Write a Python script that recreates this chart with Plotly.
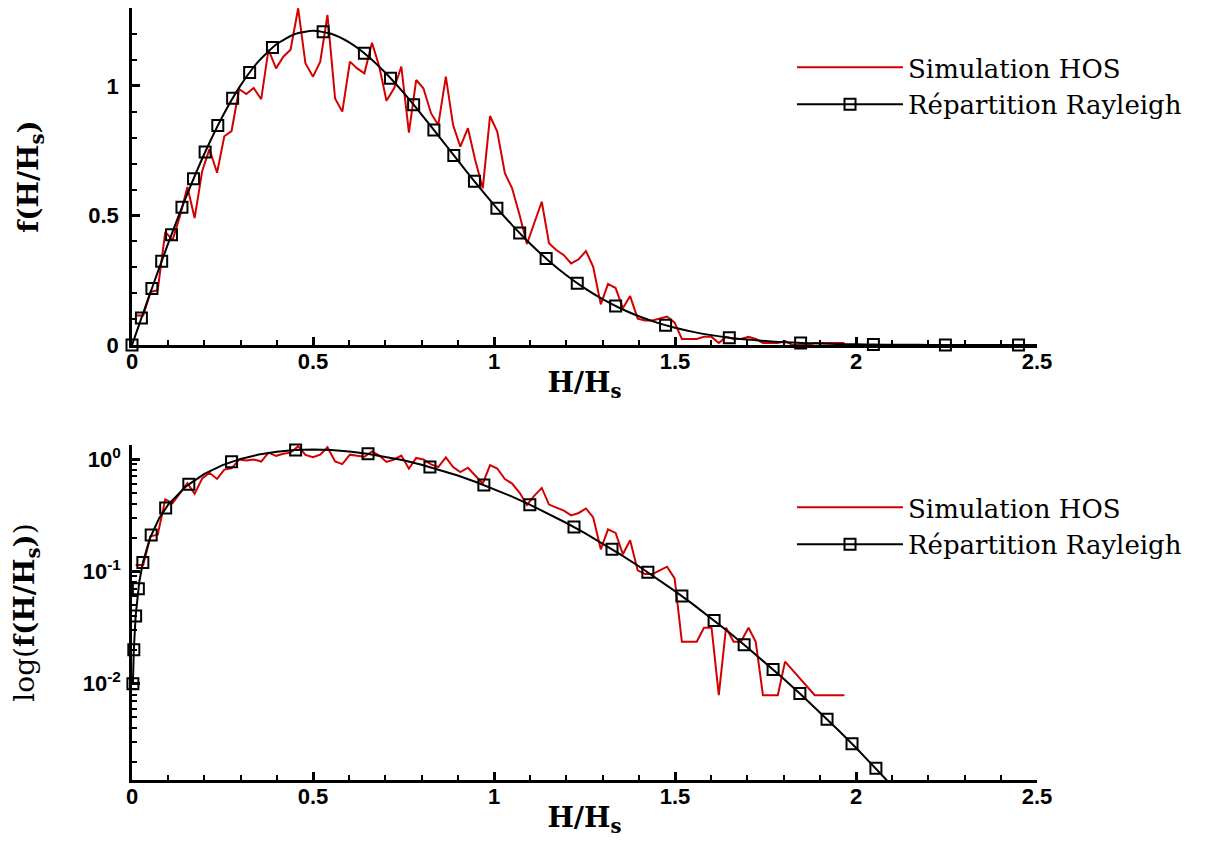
import plotly.graph_objects as go

# ---------------- data ----------------
# Simulation HOS : histogram of normalised wave heights (bin centres, density)
hos_h = [0.010, 0.031, 0.051, 0.071, 0.092, 0.112, 0.133, 0.153, 0.173, 0.194,
         0.214, 0.235, 0.255, 0.275, 0.296, 0.316, 0.336, 0.357, 0.377, 0.398,
         0.418, 0.438, 0.459, 0.479, 0.500, 0.520, 0.540, 0.561, 0.581, 0.602,
         0.622, 0.642, 0.663, 0.683, 0.703, 0.724, 0.744, 0.765, 0.785, 0.805,
         0.826, 0.846, 0.867, 0.887, 0.907, 0.928, 0.948, 0.969, 0.989, 1.009,
         1.030, 1.050, 1.071, 1.091, 1.111, 1.132, 1.152, 1.172, 1.193, 1.213,
         1.234, 1.254, 1.274, 1.295, 1.315, 1.336, 1.356, 1.376, 1.397, 1.417,
         1.438, 1.458, 1.478, 1.499, 1.519, 1.539, 1.560, 1.580, 1.601, 1.621,
         1.641, 1.662, 1.682, 1.703, 1.723, 1.743, 1.764, 1.784, 1.804, 1.825,
         1.845, 1.866, 1.886, 1.906, 1.927, 1.947, 1.968]
hos_f = [0.114, 0.114, 0.205, 0.212, 0.437, 0.405, 0.500, 0.610, 0.490, 0.672,
         0.756, 0.665, 0.806, 0.826, 0.988, 0.969, 0.992, 0.949, 1.140, 1.068,
         1.113, 1.140, 1.300, 1.088, 1.036, 1.094, 1.274, 0.952, 0.901, 1.094,
         1.068, 1.049, 1.167, 1.075, 0.943, 0.991, 1.075, 0.820, 1.023, 0.991,
         0.895, 0.849, 1.036, 0.849, 0.766, 0.837, 0.714, 0.605, 0.884, 0.824,
         0.663, 0.605, 0.500, 0.390, 0.470, 0.553, 0.393, 0.367, 0.347, 0.315,
         0.331, 0.363, 0.302, 0.157, 0.236, 0.220, 0.142, 0.189, 0.102, 0.0945,
         0.0945, 0.102, 0.110, 0.0866, 0.0236, 0.0236, 0.0236, 0.0315, 0.0315, 0.0079,
         0.0315, 0.0236, 0.0236, 0.0315, 0.0236, 0.0079, 0.0079, 0.0079, 0.0157, 0.0,
         0.0, 0.0, 0.0079, 0.0079, 0.0079, 0.0079, 0.0079]

# Rayleigh distribution curve
rayleigh_h = [0.0, 0.0025, 0.005, 0.01, 0.02, 0.03, 0.05, 0.075, 0.1, 0.15,
              0.2, 0.25, 0.3, 0.35, 0.4, 0.45, 0.5, 0.55, 0.6, 0.65,
              0.7, 0.75, 0.8, 0.85, 0.9, 0.95, 1.0, 1.05, 1.1, 1.15,
              1.2, 1.25, 1.3, 1.35, 1.4, 1.45, 1.5, 1.55, 1.6, 1.65,
              1.7, 1.75, 1.8, 1.85, 1.9, 1.95, 2.0, 2.05, 2.1, 2.15,
              2.2, 2.3, 2.4, 2.5]
rayleigh_f = [0.0, 0.0100, 0.0200, 0.03999, 0.07994, 0.1198, 0.1990, 0.2966, 0.3921, 0.5736,
              0.7385, 0.8825, 1.0023, 1.0958, 1.1618, 1.2006, 1.2131, 1.2014, 1.1682, 1.1169,
              1.0509, 0.9740, 0.8897, 0.8016, 0.7125, 0.6250, 0.5413, 0.4631, 0.3913, 0.3267,
              0.2694, 0.2197, 0.1770, 0.1411, 0.1111, 0.08654, 0.06665, 0.05078, 0.03825, 0.02850,
              0.02100, 0.01531, 0.01104, 0.007881, 0.005563, 0.003886, 0.002684, 0.001834, 0.001241, 0.000831,
              0.000550, 0.000234, 0.000095, 0.000037]

# Rayleigh symbols (linear plot)
top_marker_h = [0.0, 0.026, 0.055, 0.082, 0.109, 0.138, 0.170, 0.202, 0.237, 0.278,
                0.325, 0.388, 0.528, 0.642, 0.714, 0.778, 0.834, 0.889, 0.946, 1.008,
                1.071, 1.144, 1.230, 1.336, 1.474, 1.650, 1.847, 2.048, 2.247, 2.449]
top_marker_f = [0.0, 0.1039, 0.2187, 0.3236, 0.4258, 0.5314, 0.6418, 0.7447, 0.8473, 0.9527,
                1.0525, 1.1485, 1.2094, 1.1261, 1.0303, 0.9275, 0.8300, 0.7320, 0.6318, 0.5284,
                0.4320, 0.3340, 0.2387, 0.1505, 0.07643, 0.02849, 0.008044, 0.001863, 0.00037, 0.00006]

# Rayleigh symbols (log plot)
log_marker_h = [0.0025, 0.005, 0.010, 0.0175, 0.030, 0.053, 0.093, 0.157, 0.275, 0.452,
                0.652, 0.823, 0.972, 1.099, 1.221, 1.326, 1.425, 1.519, 1.608, 1.691,
                1.771, 1.845, 1.920, 1.989, 2.055]
log_marker_f = [0.0100, 0.0200, 0.03999, 0.06996, 0.1198, 0.2108, 0.3656, 0.5978, 0.9456, 1.2015,
                1.1144, 0.8495, 0.5876, 0.3926, 0.2476, 0.1575, 0.09819, 0.06018, 0.03651, 0.02221,
                0.01337, 0.008156, 0.004826, 0.002914, 0.001765]

x_tick_vals = [0, 0.5, 1, 1.5, 2, 2.5]
x_tick_text = ["0", "0.5", "1", "1.5", "2", "2.5"]
log_tick_vals = [1, 0.1, 0.01]
log_tick_text = ["10<sup>0</sup>", "10<sup>-1</sup>", "10<sup>-2</sup>"]
log_minor_vals = [m * d for d in (0.001, 0.01, 0.1) for m in range(2, 10)]

# ---------------- style ----------------
RED = "#d40000"
BLACK = "#000000"
line_w = 2
marker_style = dict(symbol="square-open", size=11, color=BLACK, line=dict(width=2, color=BLACK))
tick_font = dict(family="Liberation Sans, Arial, sans-serif", size=22, color=BLACK, weight="bold")
title_font = dict(family="DejaVu Serif, serif", size=28, color=BLACK)
legend_font = dict(family="DejaVu Serif, serif", size=26, color=BLACK)

fig = go.Figure()

# ----- top (linear) -----
fig.add_trace(go.Scatter(x=hos_h, y=hos_f, mode="lines", name="Simulation HOS",
                         line=dict(color=RED, width=line_w), xaxis="x", yaxis="y",
                         legend="legend"))
fig.add_trace(go.Scatter(x=rayleigh_h, y=rayleigh_f, mode="lines", showlegend=False,
                         line=dict(color=BLACK, width=line_w, shape="spline", smoothing=0.6),
                         xaxis="x", yaxis="y"))
fig.add_trace(go.Scatter(x=top_marker_h, y=top_marker_f, mode="markers", showlegend=False,
                         marker=marker_style, cliponaxis=False, xaxis="x", yaxis="y"))
fig.add_trace(go.Scatter(x=[None], y=[None], mode="lines+markers", name="Répartition Rayleigh",
                         line=dict(color=BLACK, width=line_w), marker=marker_style,
                         xaxis="x", yaxis="y", legend="legend"))

# ----- bottom (log) -----
hos_f_log = [v if v > 0 else None for v in hos_f]
fig.add_trace(go.Scatter(x=hos_h, y=hos_f_log, mode="lines", name="Simulation HOS",
                         line=dict(color=RED, width=line_w), connectgaps=True,
                         xaxis="x2", yaxis="y2", legend="legend2"))
fig.add_trace(go.Scatter(x=rayleigh_h[1:], y=rayleigh_f[1:], mode="lines", showlegend=False,
                         line=dict(color=BLACK, width=line_w), xaxis="x2", yaxis="y2"))
fig.add_trace(go.Scatter(x=log_marker_h, y=log_marker_f, mode="markers", showlegend=False,
                         marker=marker_style, cliponaxis=False, xaxis="x2", yaxis="y2"))
fig.add_trace(go.Scatter(x=[None], y=[None], mode="lines+markers", name="Répartition Rayleigh",
                         line=dict(color=BLACK, width=line_w), marker=marker_style,
                         xaxis="x2", yaxis="y2", legend="legend2"))

axis_common = dict(showline=True, linecolor=BLACK, linewidth=2.5, mirror=False,
                   ticks="inside", ticklen=8, tickwidth=3, tickcolor=BLACK,
                   showgrid=False, zeroline=False, tickfont=tick_font, automargin=False)
minor_lin = dict(ticks="inside", dtick=0.1, ticklen=5, tickwidth=1.5, tickcolor=BLACK, showgrid=False)

x_title = dict(text="<b>H/H<sub>s</sub></b>", font=title_font, standoff=0)

# the page adds an 8 px body margin, so the figure is sized/offset to compensate
fig.update_layout(
    width=1205, height=833,
    margin=dict(l=124, r=176, t=0, b=0),
    plot_bgcolor="white", paper_bgcolor="white",
    xaxis=dict(domain=[0, 1], anchor="y", range=[0, 2.5], tickmode="array",
               tickvals=x_tick_vals, ticktext=x_tick_text, minor=minor_lin,
               ticklabelstandoff=-5, title=x_title, **axis_common),
    yaxis=dict(domain=[0.5954, 1.0], anchor="x", range=[0, 1.301], dtick=0.5, tick0=0,
               minor=minor_lin, ticklabelstandoff=6,
               title=dict(text="<b>f(H/H<sub>s</sub>)</b>", font=title_font, standoff=42),
               **axis_common),
    xaxis2=dict(domain=[0, 1], anchor="y2", range=[0, 2.5], tickmode="array",
                tickvals=x_tick_vals, ticktext=x_tick_text, minor=minor_lin,
                ticklabelstandoff=-5, title=x_title, **axis_common),
    yaxis2=dict(domain=[0.0732, 0.4754], anchor="x2", type="log", range=[-2.858, 0.125],
                tickmode="array", tickvals=log_tick_vals, ticktext=log_tick_text,
                minor=dict(tickmode="array", tickvals=log_minor_vals, ticks="inside",
                           ticklen=5, tickwidth=1.5, tickcolor=BLACK, showgrid=False),
                ticklabelstandoff=4,
                title=dict(text="log(<b>f(H/H<sub>s</sub>)</b>)", font=title_font, standoff=48),
                **axis_common),
    legend=dict(x=0.7293, y=0.9064, xanchor="left", yanchor="middle", font=legend_font,
                itemwidth=106, bgcolor="rgba(0,0,0,0)", borderwidth=0),
    legend2=dict(x=0.7293, y=0.3782, xanchor="left", yanchor="middle", font=legend_font,
                 itemwidth=106, bgcolor="rgba(0,0,0,0)", borderwidth=0),
)

fig.write_html("out.html")
